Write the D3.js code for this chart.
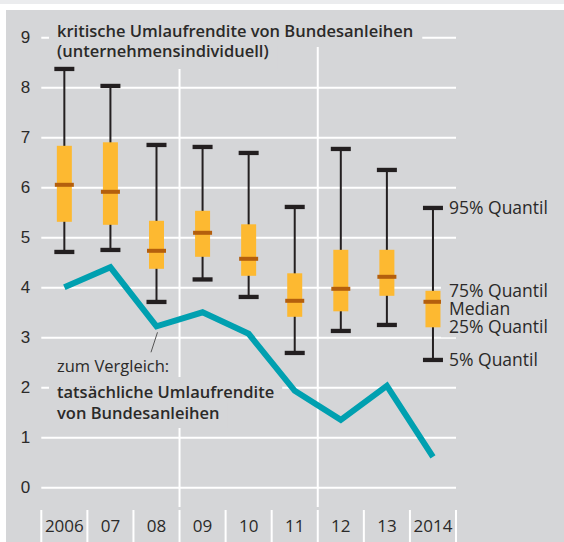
<!DOCTYPE html>
<html>
<head>
<meta charset="utf-8">
<script src="https://cdn.jsdelivr.net/npm/d3@7"></script>
<style>
  body { margin: 0; background: #fff; }
  svg { display: block; font-family: "Open Sans", sans-serif; }
</style>
</head>
<body>
<div id="chart" style="width:564px;height:542px"></div>
<script>
// values
const years = ["2006", "07", "08", "09", "10", "11", "12", "13", "2014"];
const q05 = [4.71, 4.75, 3.71, 4.16, 3.81, 2.69, 3.13, 3.25, 2.55];
const q25 = [5.31, 5.25, 4.37, 4.61, 4.23, 3.41, 3.52, 3.83, 3.20];
const median = [6.05, 5.91, 4.73, 5.09, 4.57, 3.73, 3.97, 4.21, 3.71];
const q75 = [6.83, 6.90, 5.33, 5.53, 5.26, 4.28, 4.75, 4.75, 3.93];
const q95 = [8.37, 8.03, 6.85, 6.81, 6.69, 5.61, 6.77, 6.35, 5.59];
const actual = [4.0, 4.4, 3.22, 3.5, 3.07, 1.93, 1.35, 2.03, 0.61];
const yTicks = [0, 1, 2, 3, 4, 5, 6, 7, 8, 9];

const width = 564, height = 542;
const panel = "#d5d6d8", ink = "#2b2a29";

const svg = d3.select("#chart").append("svg")
    .attr("width", width)
    .attr("height", height);

// frame
svg.append("rect").attr("width", width).attr("height", 4).attr("fill", "#ebecee");
svg.append("rect").attr("x", 6).attr("y", 10).attr("width", width - 6).attr("height", height - 10).attr("fill", panel);

const x = d3.scaleBand().domain(years).range([41.3, 456]).padding(0);
const y = d3.scaleLinear().domain([0, 9]).range([487.3, 37.3]);

const boxes = years.map((yr, i) => ({ yr, lo: q05[i], q1: q25[i], med: median[i], q3: q75[i], hi: q95[i] }));

// horizontal grid + y labels
const yAxis = svg.append("g")
    .attr("transform", `translate(${x.range()[0]},0)`)
    .call(d3.axisLeft(y).tickValues(yTicks).tickSize(-(x.range()[1] - x.range()[0])).tickPadding(11));
yAxis.select(".domain").remove();
yAxis.selectAll("line").attr("stroke", "#fff").attr("stroke-width", 2);
yAxis.selectAll("text").attr("fill", ink).style("font-size", "17px");

// vertical grid lines
[x("09"), x("12")].forEach(v => {
    svg.append("line").attr("x1", v).attr("x2", v).attr("y1", y(9)).attr("y2", 507)
        .attr("stroke", "#fff").attr("stroke-width", 2);
});

// category separators and labels at the bottom
const edges = years.map(d => x(d)).concat([x.range()[1]]);
svg.append("g").selectAll("line").data(edges).join("line")
    .attr("x1", d => d).attr("x2", d => d).attr("y1", 510).attr("y2", height)
    .attr("stroke", "#fff").attr("stroke-width", 2);
svg.append("g").selectAll("text").data(years).join("text")
    .attr("x", d => x(d) + x.bandwidth() / 2)
    .attr("y", 532)
    .attr("text-anchor", "middle")
    .attr("fill", ink)
    .style("font-size", "17px")
    .text(d => d);

// text with panel-coloured backing
function label(lines, x0, padL, padR) {
    const g = svg.append("g");
    lines.forEach(l => {
        const t = g.append("text")
            .attr("x", x0).attr("y", l.y)
            .attr("fill", ink)
            .style("font-size", l.bold ? "16.5px" : "16.5px")
            .style("font-weight", l.bold ? 600 : 400)
            .text(l.text);
        if (l.bg) {
            const b = t.node().getBBox();
            g.insert("rect", "text")
                .attr("x", b.x - padL).attr("y", l.bgTop)
                .attr("width", b.width + padL + padR).attr("height", l.bgH)
                .attr("fill", panel);
        }
    });
}

label([
    { text: "kritische Umlaufrendite von Bundesanleihen", y: 37, bold: true, bg: true, bgTop: 20, bgH: 27 },
    { text: "(unternehmensindividuell)", y: 57, bold: true, bg: true, bgTop: 46, bgH: 23 }
], 57, 8, 9);

label([
    { text: "zum Vergleich:", y: 372, bold: false },
    { text: "tatsächliche Umlaufrendite", y: 398, bold: true, bg: true, bgTop: 377, bgH: 27 },
    { text: "von Bundesanleihen", y: 419, bold: true, bg: true, bgTop: 403, bgH: 25 }
], 57, 8, 8);

// leader line for the comparison label
svg.append("line")
    .attr("x1", x("08") + x.bandwidth() / 2 + 1).attr("y1", y(actual[2]) + 6)
    .attr("x2", x("08") + x.bandwidth() / 2 - 5.5).attr("y2", y(actual[2]) + 26)
    .attr("stroke", "#555").attr("stroke-width", 1);

// actual yield line
svg.append("path")
    .datum(actual)
    .attr("fill", "none")
    .attr("stroke", "#00a0b0")
    .attr("stroke-width", 6)
    .attr("stroke-linejoin", "miter")
    .attr("d", d3.line().x((d, i) => x(years[i]) + x.bandwidth() / 2).y(d => y(d)));

// boxplots
const bx = svg.append("g").selectAll("g").data(boxes).join("g")
    .attr("transform", d => `translate(${x(d.yr) + x.bandwidth() / 2},0)`);
bx.append("line").attr("y1", d => y(d.hi)).attr("y2", d => y(d.lo))
    .attr("stroke", "#231f20").attr("stroke-width", 2);
bx.append("rect").attr("x", -7.5).attr("width", 15)
    .attr("y", d => y(d.q3)).attr("height", d => y(d.q1) - y(d.q3))
    .attr("fill", "#fdb931");
bx.append("rect").attr("x", -9.5).attr("width", 19)
    .attr("y", d => y(d.med) - 2).attr("height", 4)
    .attr("fill", "#b45f0d");
["hi", "lo"].forEach(k => {
    bx.append("rect").attr("x", -10).attr("width", 20)
        .attr("y", d => y(d[k]) - 2).attr("height", 4.3)
        .attr("fill", "#231f20");
});

// legend labels next to the last box
const last = boxes[boxes.length - 1];
const legendItems = [
    { text: "95% Quantil", v: y(last.hi) },
    { text: "75% Quantil", v: y(last.q3) },
    { text: "Median", v: (y(last.q3) + y(last.q1)) / 2 },
    { text: "25% Quantil", v: y(last.q1) },
    { text: "5% Quantil", v: y(last.lo) }
];
const lg = svg.append("g");
lg.append("rect").attr("x", 441).attr("y", y(last.q3) - 10).attr("width", 16)
    .attr("height", y(last.q1) - y(last.q3) + 20).attr("fill", panel);
lg.selectAll("text").data(legendItems).join("text")
    .attr("x", 449).attr("y", d => d.v).attr("dy", "0.35em")
    .attr("fill", ink).style("font-size", "17.5px")
    .text(d => d.text);
</script>
</body>
</html>
